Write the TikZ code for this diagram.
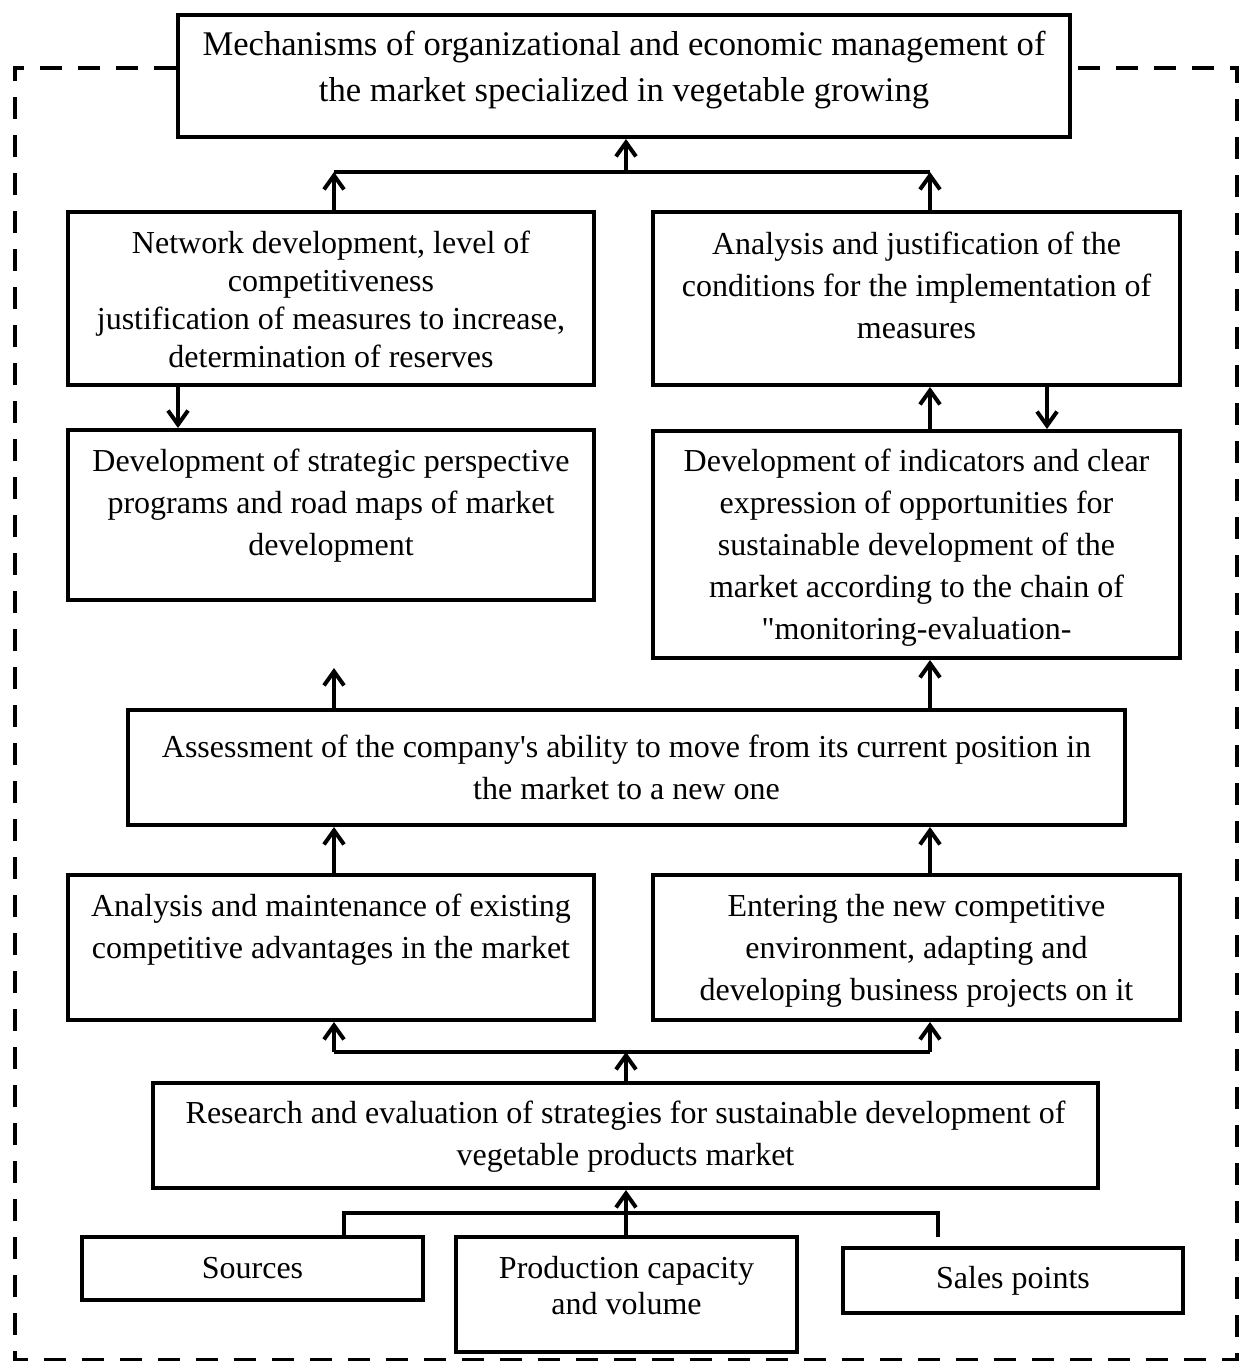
\documentclass[tikz,border=0pt]{standalone}
\usepackage{fontspec}
\setmainfont{Liberation Serif}
\usetikzlibrary{arrows.meta,fit}
\begin{document}
\begin{tikzpicture}[x=0.5pt,y=-0.5pt,
  box/.style={draw, line width=2pt, inner sep=0pt},
  txt/.style={align=center, inner sep=0pt, font=\fontsize{16}{21}\selectfont},
  ln/.style={line width=2pt},
  arr/.style={line width=2pt, -{Straight Barb[length=7pt,width=10pt]}},
  border/.style={line width=2pt, dash pattern=on 11pt off 8pt}]
\useasboundingbox (0,0) rectangle (1241,1361);

% boxes
\node[box, fit={(178,15) (1070,137)}] (top) {};
\node[box, fit={(68,212) (594,385)}] (r2l) {};
\node[box, fit={(653,212) (1180,385)}] (r2r) {};
\node[box, fit={(68,430) (594,600)}] (r3l) {};
\node[box, fit={(653,431) (1180,658)}] (r3r) {};
\node[box, fit={(128,710) (1125,825)}] (as) {};
\node[box, fit={(68,875) (594,1020)}] (r5l) {};
\node[box, fit={(653,875) (1180,1020)}] (r5r) {};
\node[box, fit={(153,1083) (1098,1188)}] (rs) {};
\node[box, fit={(82,1237) (423,1300)}] (src) {};
\node[box, fit={(456,1237) (797,1352)}] (pr) {};
\node[box, fit={(843,1248) (1183,1313)}] (sl) {};

% texts
\node[txt, font=\fontsize{17.3}{23}\selectfont] (topt) at (624,70) {Mechanisms of organizational and economic management of\\the market specialized in vegetable growing};
\node[txt, font=\fontsize{16}{19}\selectfont] (r2lt) at (331,299.5) {Network development, level of\\competitiveness\\justification of measures to increase,\\determination of reserves};
\node[txt] (r2rt) at (916.5,285.5) {Analysis and justification of the\\conditions for the implementation of\\measures};
\node[txt] (r3lt) at (331,505.5) {Development of strategic perspective\\programs and road maps of market\\development};
\begin{scope}
\clip (653,431) rectangle (1180,646);
\node[txt] (r3rt) at (916.5,547.5) {Development of indicators and clear\\expression of opportunities for\\sustainable development of the\\market according to the chain of\\\textquotedbl monitoring-evaluation-};
\end{scope}
\node[txt] (ast) at (626.5,767.5) {Assessment of the company\textquotesingle s ability to move from its current position in\\the market to a new one};
\node[txt] (r5lt) at (331,930) {Analysis and maintenance of existing\\competitive advantages in the market};
\node[txt] (r5rt) at (916.5,951) {Entering the new competitive\\environment, adapting and\\developing business projects on it};
\node[txt] (rst) at (625.5,1137) {Research and evaluation of strategies for sustainable development of\\vegetable products market};
\node[txt] (srct) at (252.5,1268.5) {Sources};
\node[txt, font=\fontsize{16}{18}\selectfont] (prt) at (626.5,1286) {Production capacity\\and volume};
\node[txt] (slt) at (1013,1281) {Sales points};

% dashed frame
\coordinate (c1) at (15,68);
\coordinate (c2) at (15,1360);
\coordinate (c3) at (1237,1360);
\coordinate (c4) at (1237,68);
\draw[border] (top.west |- c1) -- (c1) -- (c2) -- (c3) -- (c4) -- (top.east |- c4);

% top junction
\coordinate (j1) at (626,172);
\coordinate (j1l) at (334,172);
\coordinate (j1r) at (930,172);
\draw[ln] (j1l) -- (j1r);
\draw[arr] (j1) -- (j1 |- top.south);
\draw[arr] (j1l |- r2l.north) -- (j1l);
\draw[arr] (j1r |- r2r.north) -- (j1r);

% row 2 - row 3
\coordinate (d1) at (178,400);
\coordinate (d2) at (1047,400);
\draw[arr] (d1 |- r2l.south) -- (d1 |- r3l.north);
\draw[arr] (j1r |- r3r.north) -- (j1r |- r2r.south);
\draw[arr] (d2 |- r2r.south) -- (d2 |- r3r.north);

% assessment up
\coordinate (f1) at (334,668);
\draw[arr] (f1 |- as.north) -- (f1);
\draw[arr] (j1r |- as.north) -- (j1r |- r3r.south);

% row 5 up to assessment
\draw[arr] (j1l |- r5l.north) -- (j1l |- as.south);
\draw[arr] (j1r |- r5r.north) -- (j1r |- as.south);

% research junction
\coordinate (j2) at (626,1052);
\coordinate (j2l) at (334,1052);
\coordinate (j2r) at (930,1052);
\draw[ln] (j2l) -- (j2r);
\draw[arr] (j2 |- rs.north) -- (j2);
\draw[arr] (j2l) -- (j2l |- r5l.south);
\draw[arr] (j2r) -- (j2r |- r5r.south);

% bottom inputs
\coordinate (b1) at (344,1213);
\coordinate (b2) at (938,1213);
\coordinate (b3) at (938,1237);
\draw[ln] (b1 |- src.north) -- (b1) -- (b2) -- (b3);
\draw[arr] (j2 |- pr.north) -- (j2 |- rs.south);
\end{tikzpicture}
\end{document}
